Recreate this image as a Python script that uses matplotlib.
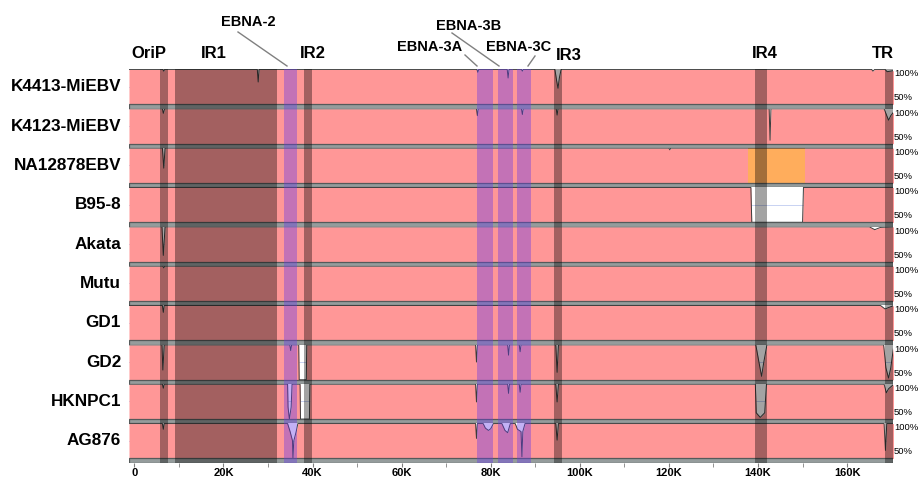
#!/usr/bin/env python3
"""
EBV genome alignment (VISTA style) - 10 strains vs reference
"""
import numpy as np
import matplotlib
matplotlib.use('Agg')
import matplotlib.pyplot as plt
from matplotlib.patches import Rectangle
from matplotlib.lines import Line2D

plt.rcParams['font.family'] = ['Liberation Sans', 'DejaVu Sans']

# strain names, top to bottom
strains = ['K4413-MiEBV', 'K4123-MiEBV', 'NA12878EBV', 'B95-8', 'Akata',
           'Mutu', 'GD1', 'GD2', 'HKNPC1', 'AG876']

# conservation curves (position in K, identity %)
k4413 = [(-1.2, 100), (6.4, 100), (6.6, 97), (6.8, 100), (27.6, 100), (27.8, 78), (28.0, 100),
         (76.9, 100), (77.1, 95), (77.3, 100), (83.7, 100), (83.9, 85), (84.1, 100),
         (86.9, 100), (87.1, 97), (87.3, 100), (94.4, 100), (94.8, 80), (95.1, 67), (95.4, 85),
         (95.8, 100), (165.5, 100), (165.8, 97), (166.2, 100), (168.5, 100), (169.0, 96), (170.5, 98)]
k4123 = [(-1.2, 100), (6.3, 100), (6.5, 92), (6.8, 100), (76.8, 100), (77.0, 88), (77.2, 100),
         (86.9, 100), (87.1, 90), (87.3, 100), (94.7, 100), (94.9, 89), (95.1, 100),
         (142.5, 100), (142.7, 45), (142.9, 100), (168.3, 100), (168.8, 90), (169.3, 80),
         (169.8, 88), (170.5, 95)]
na12878 = [(-1.2, 100), (6.3, 100), (6.6, 65), (6.9, 100), (120.0, 100), (120.2, 97),
           (120.4, 100), (170.5, 100)]
b958 = [(-1.2, 100), (138.4, 100), (138.6, 39), (150.0, 39), (150.2, 100), (170.5, 100)]
akata = [(-1.2, 100), (6.2, 100), (6.5, 50), (6.9, 100), (165.0, 100), (166.2, 95),
         (167.5, 99), (170.5, 100)]
mutu = [(-1.2, 100), (6.4, 100), (6.6, 97), (6.8, 100), (170.5, 100)]
gd1 = [(-1.2, 100), (6.3, 100), (6.5, 88), (6.7, 100), (167.5, 100), (168.5, 94),
       (169.5, 97), (170.5, 100)]
gd2 = [(-1.2, 100), (6.2, 100), (6.4, 56), (6.7, 100), (34.9, 100), (35.1, 90), (35.3, 100),
       (36.9, 100), (37.0, 39), (38.6, 39), (38.7, 100), (76.6, 100), (76.8, 70), (77.0, 100),
       (83.8, 100), (84.0, 82), (84.2, 100), (86.4, 100), (86.6, 88), (86.8, 100),
       (94.6, 100), (94.9, 52), (95.2, 100), (139.5, 100), (140.2, 70), (140.8, 45),
       (141.3, 70), (142.0, 100), (168.2, 100), (168.7, 60), (169.3, 42), (169.8, 60), (170.5, 100)]
hknpc1 = [(-1.2, 100), (6.3, 100), (6.5, 93), (6.7, 100), (34.4, 100), (34.5, 60), (34.8, 39),
          (35.2, 60), (35.4, 100), (37.2, 100), (37.3, 39), (39.3, 39), (39.4, 100),
          (76.6, 100), (76.8, 69), (77.0, 100), (83.8, 100), (84.0, 84), (84.2, 100),
          (86.4, 100), (86.6, 86), (86.8, 100), (94.6, 100), (94.9, 69), (95.2, 100),
          (139.4, 100), (139.6, 50), (140.5, 42), (141.5, 50), (141.9, 100),
          (168.3, 100), (168.8, 85), (169.3, 92), (170.5, 100)]
ag876 = [(-1.2, 100), (6.3, 100), (6.5, 90), (6.7, 100), (34.4, 100), (35.0, 85), (35.5, 70),
         (35.6, 40), (35.8, 70), (36.3, 85), (36.7, 100), (76.6, 100), (76.8, 74), (77.0, 100),
         (78.3, 100), (78.8, 92), (79.5, 88), (80.0, 91), (80.6, 100), (82.5, 100), (83.2, 88),
         (83.8, 84), (84.4, 100), (85.5, 100), (86.0, 90), (86.8, 86), (87.0, 42), (87.2, 86),
         (87.7, 100), (94.6, 100), (94.9, 71), (95.2, 100), (168.3, 100), (168.6, 53),
         (168.9, 100), (170.5, 100)]
curves = [k4413, k4123, na12878, b958, akata, mutu, gd1, gd2, hknpc1, ag876]

# annotated regions (start K, end K)
dark_regions = [(5.8, 7.6), (9.2, 32.1), (38.0, 39.9), (94.1, 95.9), (139.3, 142.0), (168.6, 170.3)]
purple_regions = [(33.7, 36.6), (77.0, 80.4), (81.6, 84.9), (85.8, 89.0)]
orange_box = (137.8, 150.6)   # NA12878EBV row

# labels above the plot: (text, x px, y px, fontsize)
region_labels = [('OriP', 149, 54, 12), ('IR1', 214, 54, 12), ('IR2', 313, 54, 12),
                 ('IR3', 569, 56, 12), ('IR4', 765, 53, 12), ('TR', 883, 53, 12)]
gene_labels = [('EBNA-2', 248, 22, 10.5), ('EBNA-3A', 430, 47, 10.5),
               ('EBNA-3B', 469, 26, 10.5), ('EBNA-3C', 519, 47, 10.5)]
# leader lines (x0, y0, x1, y1) px
leaders = [(238, 32, 287, 66), (465, 55, 477, 66), (452, 33, 499, 66), (535, 56, 528, 66)]

xticks = [0, 20, 40, 60, 80, 100, 120, 140, 160]
xticklabels = ['0', '20K', '40K', '60K', '80K', '100K', '120K', '140K', '160K']

W, H = 922, 479
PINK = '#ff9797'


def fx(px):
    return px / W


def fy(py):
    return 1 - py / H


def main():
    fig = plt.figure(figsize=(W / 100, H / 100), dpi=100)

    left, right = 129, 893
    top0, pitch = 69.3, 39.35
    ymin, pink_bot, ymax = 31.4, 39.0, 100.2

    for i, (name, pts) in enumerate(zip(strains, curves)):
        row_top = top0 + i * pitch
        ax = fig.add_axes([fx(left), fy(row_top + pitch), fx(right - left), pitch / H])
        ax.set_xlim(-1.2, 170.3)
        ax.set_ylim(ymin, ymax)
        ax.axis('off')

        pts = np.array(pts)
        x, y = pts[:, 0], pts[:, 1]

        # faint grid line, only visible where there is no fill
        ax.axhline(70, color='#c8d2f2', lw=0.7, zorder=1)
        ax.fill_between(x, pink_bot, y, color=PINK, lw=0, zorder=2)
        if i == 2:
            ax.add_patch(Rectangle((orange_box[0], pink_bot), orange_box[1] - orange_box[0],
                                   ymax - pink_bot, color='#ffad5c', lw=0, zorder=3))
        ax.plot(x, y, color='#3c3c3c', lw=0.7, zorder=4)

        # separator / axis strip
        ax.add_patch(Rectangle((-1.2, ymin), 171.5, pink_bot - ymin, facecolor='#959c9c',
                               edgecolor='#555a5a', lw=0.9, zorder=4))

        for a, b in dark_regions:
            ax.axvspan(a, b, color='black', alpha=0.36, lw=0, zorder=5)
        for a, b in purple_regions:
            ax.axvspan(a, b, color='#6a3ce6', alpha=0.4, lw=0, zorder=5)

        # strain name + percent labels
        fig.text(fx(121), fy(row_top + 17.5), name, ha='right', va='center',
                 fontsize=12.3, fontweight='bold')
        fig.text(fx(894), fy(row_top + 4.5), '100%', ha='left', va='center', fontsize=6.8)
        fig.text(fx(894), fy(row_top + 28.5), '50%', ha='left', va='center', fontsize=6.8)

        if i == len(strains) - 1:
            # bottom axis
            ax.axis('on')
            for s in ax.spines.values():
                s.set_visible(False)
            ax.set_yticks([])
            ax.set_xticks(xticks)
            ax.set_xticklabels(xticklabels, fontsize=8, fontweight='bold',
                               family=['Liberation Sans Narrow', 'Liberation Sans'])
            ax.set_xticks(np.arange(10, 170, 20), minor=True)
            ax.tick_params(axis='x', which='both', direction='out', length=3,
                           color='#808080', pad=0.8)

    for text, x, y, fs in region_labels + gene_labels:
        fig.text(fx(x), fy(y), text, ha='center', va='center', fontsize=fs, fontweight='bold')
    for x0, y0, x1, y1 in leaders:
        fig.add_artist(Line2D([fx(x0), fx(x1)], [fy(y0), fy(y1)], color='#808080', lw=1))

    fig.savefig('out.png', dpi=100)
    plt.close(fig)


if __name__ == '__main__':
    main()
